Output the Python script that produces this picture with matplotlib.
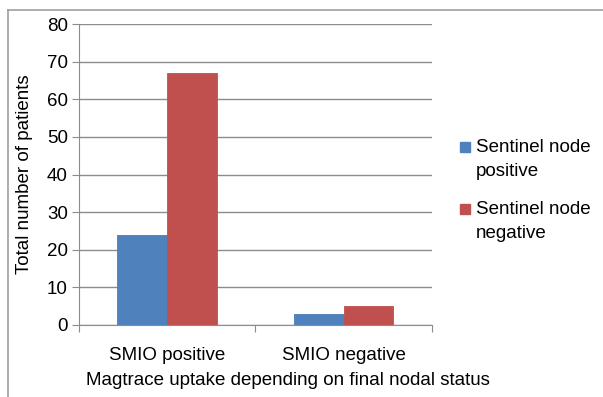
import matplotlib.pyplot as plt
from matplotlib.lines import Line2D
from matplotlib.patches import Rectangle

categories = ['SMIO positive', 'SMIO negative']
series_names = ['Sentinel node\npositive', 'Sentinel node\nnegative']
sn_positive = [24, 3]
sn_negative = [67, 5]
y_ticks = [0, 10, 20, 30, 40, 50, 60, 70, 80]

blue = '#4F81BD'
red = '#C0504D'
grid_col = '#8C8C8C'
fs = 13.5

plt.rcParams['font.family'] = ['Liberation Sans', 'DejaVu Sans']

fig = plt.figure(figsize=(6.03, 3.97), dpi=100)
ax = fig.add_axes([0.131, 0.1814, 0.585, 0.7581])

# outer frame (left and top edges only, as in the source image)
fig.add_artist(Line2D([0.0133, 0.0133], [0.0, 0.975], transform=fig.transFigure,
                      color='#A0A0A0', lw=1.2))
fig.add_artist(Line2D([0.0133, 1.0], [0.975, 0.975], transform=fig.transFigure,
                      color='#A0A0A0', lw=1.2))

centers = [0.5, 1.5]
w = 0.2825
ax.bar([c - w / 2 for c in centers], sn_positive, width=w, color=blue,
       edgecolor='#4A7BB7', lw=0.6, zorder=3)
ax.bar([c + w / 2 for c in centers], sn_negative, width=w, color=red,
       edgecolor='#C0504D', lw=0.6, zorder=3)

ax.set_xlim(0, 2)
ax.set_ylim(0, 80)
ax.set_yticks(y_ticks)
ax.yaxis.grid(True, color=grid_col, lw=1.0, zorder=0)
ax.tick_params(axis='y', length=5, color=grid_col, labelsize=fs, pad=3)

ax.set_xticks([0, 1, 2])
ax.set_xticklabels([])
ax.set_xticks(centers, minor=True)
ax.set_xticklabels(categories, minor=True, fontsize=fs)
ax.tick_params(axis='x', which='major', length=5, color=grid_col)
ax.tick_params(axis='x', which='minor', length=0, pad=16)

for s in ['top', 'right']:
    ax.spines[s].set_visible(False)
for s in ['left', 'bottom']:
    ax.spines[s].set_color(grid_col)

ax.set_ylabel('Total number of patients', fontsize=fs, labelpad=10)
ax.set_xlabel('Magtrace uptake depending on final nodal status', fontsize=fs,
              labelpad=6)
ax.xaxis.set_label_coords(0.592, -0.155)

# legend drawn by hand: square aligned with the first text line
leg_y = [147, 209]
for name, col, yp in zip(series_names, [blue, red], leg_y):
    yf = 1 - yp / 397
    fig.add_artist(Rectangle((460 / 603, yf - 5 / 397), 10 / 603, 10 / 397,
                             transform=fig.transFigure, color=col))
    fig.text(476 / 603, yf + 8 / 397, name, fontsize=fs, va='top', ha='left',
             linespacing=1.55)

fig.savefig('out.png', dpi=100)
